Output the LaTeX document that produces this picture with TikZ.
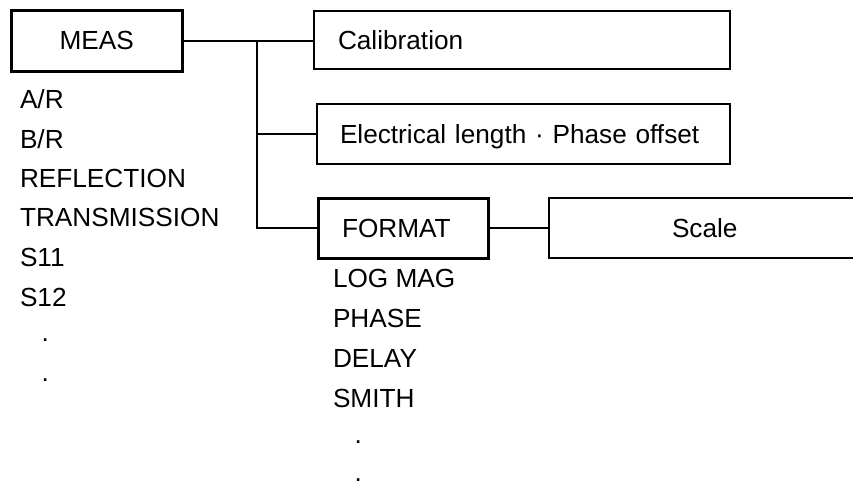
\documentclass[tikz,border=0pt]{standalone}
\usepackage{fontspec}
\setmainfont{Liberation Sans}
\begin{document}
\begin{tikzpicture}[x=1pt,y=-1pt,
  every node/.style={font=\fontsize{26.2}{30}\selectfont, outer sep=0pt},
  thinbox/.style={draw, line width=2pt, anchor=north west, text height=18.5pt, text depth=0pt, align=left},
  thickbox/.style={thinbox, line width=3pt},
  item/.style={anchor=base west, inner sep=0pt},
  wire/.style={line width=2pt}]
\useasboundingbox (0,0) rectangle (853,485);
\clip (0,0) rectangle (853,485);
% boxes
\node[thickbox, minimum width=171pt, minimum height=61pt, inner xsep=48.5pt, text width=74pt] (meas) at (11,10) {MEAS};
\node[thinbox, minimum width=416pt, minimum height=58pt, inner xsep=24pt, text width=368pt] (calib) at (314,11) {Calibration};
\node[thinbox, minimum width=413pt, minimum height=60pt, inner xsep=23pt, text width=367pt] (elec) at (317,104) {Electrical length · Phase offset};
\node[thickbox, minimum width=170pt, minimum height=60pt, inner xsep=24pt, text width=122pt] (format) at (318,198) {FORMAT};
\node[thinbox, minimum width=400pt, minimum height=60pt, inner xsep=123pt, text width=154pt] (scale) at (549,198) {Scale};
% connectors
\coordinate (j) at (257,40.5);
\draw[wire] (meas.east) -- (meas.east -| calib.west);
\draw[wire] (j) |- (format.west);
\draw[wire] (j |- elec.west) -- (elec.west);
\draw[wire] (format.east) -- (scale.west);
% MEAS list
\node[item] (m1) at (20,108) {A/R};
\node[item] (m2) at (20,148) {B/R};
\node[item] (m3) at (20,187) {REFLECTION};
\node[item] (m4) at (20,226) {TRANSMISSION};
\node[item] (m5) at (20,266) {S11};
\node[item] (m6) at (20,306) {S12};
\node[item] (m7) at (41.5,341) {.};
\node[item] (m8) at (41.5,381) {.};
% FORMAT list
\node[item] (f1) at (333,287) {LOG MAG};
\node[item] (f2) at (333,327) {PHASE};
\node[item] (f3) at (333,367) {DELAY};
\node[item] (f4) at (333,407) {SMITH};
\node[item] (f5) at (354.5,443) {.};
\node[item] (f6) at (354.5,481) {.};
\end{tikzpicture}
\end{document}
